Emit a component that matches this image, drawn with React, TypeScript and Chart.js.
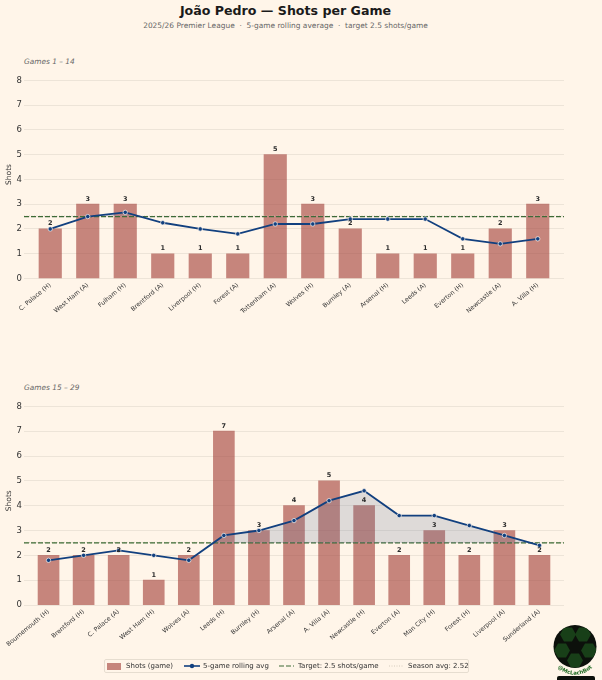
import { useEffect, useRef } from "react";
import Chart from "chart.js/auto";

const games1 = ["C. Palace (H)", "West Ham (A)", "Fulham (H)", "Brentford (A)", "Liverpool (H)", "Forest (A)", "Tottenham (A)", "Wolves (H)", "Burnley (A)", "Arsenal (H)", "Leeds (A)", "Everton (H)", "Newcastle (A)", "A. Villa (H)"];
const shots1 = [2, 3, 3, 1, 1, 1, 5, 3, 2, 1, 1, 1, 2, 3];
const rolling1 = [2, 2.5, 2.67, 2.25, 2, 1.8, 2.2, 2.2, 2.4, 2.4, 2.4, 1.6, 1.4, 1.6];

const games2 = ["Bournemouth (H)", "Brentford (H)", "C. Palace (A)", "West Ham (H)", "Wolves (A)", "Leeds (H)", "Burnley (H)", "Arsenal (A)", "A. Villa (A)", "Newcastle (H)", "Everton (A)", "Man City (H)", "Forest (H)", "Liverpool (A)", "Sunderland (A)"];
const shots2 = [2, 2, 2, 1, 2, 7, 3, 4, 5, 4, 2, 3, 2, 3, 2];
const rolling2 = [1.8, 2, 2.2, 2, 1.8, 2.8, 3, 3.4, 4.2, 4.6, 3.6, 3.6, 3.2, 2.8, 2.4];

const TARGET = 2.5;
const SEASON_AVG = 2.52;

const BG = "#fff5e9";
const BAR = "rgba(160,58,52,0.6)";
const NAVY = "#12407f";
const GREEN = "#3d6b35";
const FONT = "'DejaVu Sans'";

// draws the number above each bar
const valueLabels = {
  id: "valueLabels",
  afterDatasetsDraw(chart: any) {
    const meta = chart.getDatasetMeta(0);
    const ctx = chart.ctx;
    ctx.save();
    ctx.font = `bold 6.5px ${FONT}`;
    ctx.fillStyle = "#2b2b2b";
    ctx.textAlign = "center";
    ctx.textBaseline = "bottom";
    meta.data.forEach((bar: any, i: number) => {
      ctx.fillText(String(chart.data.datasets[0].data[i].y), bar.x, bar.y - 2);
    });
    ctx.restore();
  },
};

function GamesChart({ games, shots, rolling, top, height, bottom, barWidth }: any) {
  const ref = useRef<HTMLCanvasElement>(null);

  useEffect(() => {
    if (!ref.current) return;
    const xs = games.map((_: string, i: number) => i);
    const xMax = games.length - 0.3;
    const across = (v: number) => [{ x: -0.7, y: v }, { x: xMax, y: v }];
    const chart = new Chart(ref.current, {
      type: "bar",
      data: {
        datasets: [
          {
            type: "bar",
            data: xs.map((x: number) => ({ x, y: shots[x] })),
            backgroundColor: BAR,
            barThickness: barWidth,
            order: 4,
          },
          {
            type: "line",
            data: across(SEASON_AVG),
            borderColor: "#c9c0b0",
            borderWidth: 0.8,
            borderDash: [1, 1.5],
            pointRadius: 0,
            order: 3,
          },
          {
            type: "line",
            data: across(TARGET),
            borderColor: GREEN,
            borderWidth: 1.2,
            borderDash: [5, 2],
            pointRadius: 0,
            order: 2,
          },
          {
            type: "line",
            data: xs.map((x: number) => ({ x, y: rolling[x] })),
            borderColor: NAVY,
            borderWidth: 1.8,
            tension: 0,
            pointRadius: 2.2,
            pointBorderWidth: 0.7,
            pointBackgroundColor: NAVY,
            pointBorderColor: "#fff8f0",
            fill: { target: { value: TARGET }, above: "rgba(90,110,150,0.2)", below: "rgba(0,0,0,0)" },
            order: 1,
          },
        ] as any,
      },
      options: {
        responsive: false,
        animation: false,
        layout: { padding: { top: 10.4, right: 38, left: 0, bottom: 0 } },
        plugins: { legend: { display: false }, tooltip: { enabled: false } },
        scales: {
          x: {
            type: "linear",
            offset: false,
            min: -0.7,
            max: xMax,
            grid: { display: false, drawTicks: false },
            border: { display: false },
            afterFit: (s: any) => { s.height = bottom; },
            afterBuildTicks: (s: any) => { s.ticks = xs.map((v: number) => ({ value: v })); },
            ticks: {
              autoSkip: false,
              includeBounds: false,
              minRotation: 40,
              maxRotation: 40,
              padding: 3,
              color: "#333333",
              font: { family: FONT, size: 6.2 },
              callback: (v: any) => games[v] ?? "",
            },
          },
          y: {
            min: 0,
            max: 8.4,
            grid: { color: "#e9dfd3", lineWidth: 0.8, drawTicks: false },
            border: { display: false },
            afterFit: (s: any) => { s.width = 24; },
            title: { display: true, text: "Shots", color: "#333333", font: { family: FONT, size: 7.5 }, padding: { top: 5, bottom: 0 } },
            ticks: {
              stepSize: 1,
              includeBounds: false,
              padding: 2,
              color: "#333333",
              font: { family: FONT, size: 8.5 },
            },
          },
        },
      },
      plugins: [valueLabels],
    });
    return () => chart.destroy();
  }, []);

  return <canvas ref={ref} width={602} height={height} style={{ position: "absolute", left: 0, top }} />;
}

const legendText = { position: "absolute", top: 0, lineHeight: "13px", whiteSpace: "nowrap" } as const;

function Legend() {
  return (
    <div style={{ position: "absolute", left: 104, top: 659, width: 363, height: 12, border: "1px solid #e6ddd0", borderRadius: 2, fontSize: 7, color: "#333" }}>
      <span style={{ position: "absolute", left: 2, top: 2.5, width: 14, height: 7, background: BAR }} />
      <span style={{ ...legendText, left: 21 }}>Shots (game)</span>
      <svg style={{ position: "absolute", left: 79, top: 0 }} width={16} height={12}>
        <line x1={0} y1={6} x2={16} y2={6} stroke={NAVY} strokeWidth={1.6} />
        <circle cx={8} cy={6} r={2.2} fill={NAVY} />
      </svg>
      <span style={{ ...legendText, left: 98 }}>5-game rolling avg</span>
      <svg style={{ position: "absolute", left: 174, top: 0 }} width={15} height={12}>
        <line x1={0} y1={6} x2={15} y2={6} stroke={GREEN} strokeWidth={1.2} strokeDasharray="5 2" />
      </svg>
      <span style={{ ...legendText, left: 193 }}>Target: 2.5 shots/game</span>
      <svg style={{ position: "absolute", left: 284, top: 0 }} width={14} height={12}>
        <line x1={0} y1={6} x2={14} y2={6} stroke="#c9c0b0" strokeWidth={0.8} strokeDasharray="1 1.5" />
      </svg>
      <span style={{ ...legendText, left: 303 }}>Season avg: 2.52</span>
    </div>
  );
}

const patches = [[-7, -12], [8, -12], [-13, 4], [14, 4], [0, 14]];

function hexagon(cx: number, cy: number, r: number) {
  return [0, 60, 120, 180, 240, 300]
    .map((a) => `${cx + r * Math.cos((a * Math.PI) / 180)},${cy + r * Math.sin((a * Math.PI) / 180)}`)
    .join(" ");
}

function Logo() {
  return (
    <svg style={{ position: "absolute", left: 545, top: 620 }} width={57} height={60}>
      <defs>
        <clipPath id="ball"><circle cx={30} cy={26.5} r={21.5} /></clipPath>
        <path id="arc" d="M 10 44 A 24 24 0 0 0 50 44" />
      </defs>
      <circle cx={30} cy={26.5} r={21.5} fill="#0c100b" />
      <g clipPath="url(#ball)">
        {patches.map(([dx, dy], i) => (
          <polygon key={i} points={hexagon(30 + dx, 26.5 + dy, 8)} fill="#183f18" />
        ))}
      </g>
      <text fontSize={5.4} fontWeight="bold" fill="#1f6b22" fontFamily="DejaVu Sans">
        <textPath href="#arc" startOffset="50%" textAnchor="middle">@McLachBot</textPath>
      </text>
      <rect x={12} y={56} width={38} height={6} rx={2} fill="#0c100b" />
    </svg>
  );
}

export default function App() {
  useEffect(() => {
    document.body.style.margin = "0";
    document.body.style.background = BG;
    document.body.style.overflow = "hidden";
  }, []);

  const games = { position: "absolute", left: 24, fontSize: 7.4, fontStyle: "italic", color: "#666" } as const;

  return (
    <div style={{ position: "relative", width: 602, height: 680, overflow: "hidden", background: BG, fontFamily: FONT }}>
      <div style={{ position: "absolute", left: 0, width: 571, top: 3, textAlign: "center", fontSize: 12.6, fontWeight: "bold", color: "#1a1a1a" }}>
        João Pedro — Shots per Game
      </div>
      <div style={{ position: "absolute", left: 0, width: 571, top: 21, textAlign: "center", fontSize: 7.45, color: "#666", whiteSpace: "pre" }}>
        2025/26 Premier League  ·  5-game rolling average  ·  target 2.5 shots/game
      </div>
      <div style={{ ...games, top: 57 }}>Games 1 – 14</div>
      <GamesChart games={games1} shots={shots1} rolling={rolling1} top={60} height={280} bottom={61.5} barWidth={22.5} />
      <div style={{ ...games, top: 383 }}>Games 15 – 29</div>
      <GamesChart games={games2} shots={shots2} rolling={rolling2} top={386} height={294} bottom={75} barWidth={21} />
      <Legend />
      <Logo />
    </div>
  );
}
